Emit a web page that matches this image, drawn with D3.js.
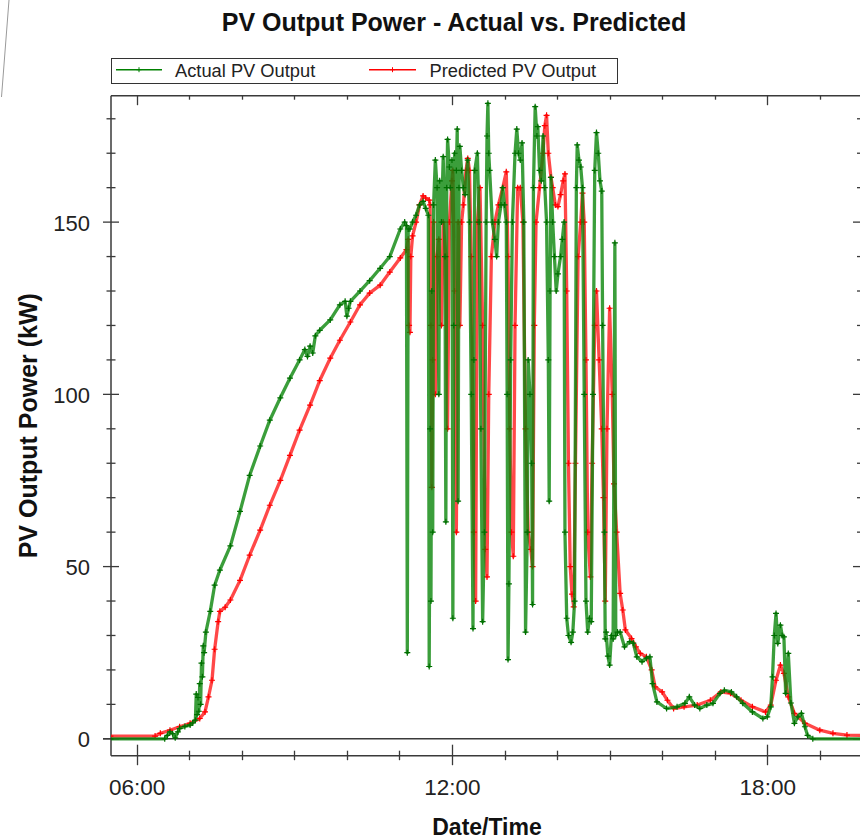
<!DOCTYPE html>
<html><head><meta charset="utf-8">
<script src="https://cdn.jsdelivr.net/npm/d3@7"></script>
<style>body{margin:0;background:#fff}svg{display:block}</style>
</head><body><svg id="c" width="860" height="839"></svg>
<script>
// ---------------- DATA ----------------
const seriesNames = ["Actual PV Output", "Predicted PV Output"];
const yTickMajor = [0, 50, 100, 150];
const xTickLabels = ["06:00", "12:00", "18:00"];

const actualTime = ["05:30","06:32","06:35","06:38","06:41","06:44","06:47","06:49","06:55","07:01","07:04","07:07","07:08","07:09","07:10","07:11","07:12","07:13","07:14","07:15","07:16","07:17","07:19","07:24","07:29","07:35","07:47","07:58","08:09","08:21","08:32","08:44","08:55","09:06","09:12","09:15","09:18","09:21","09:24","09:29","09:41","09:52","09:58","10:00","10:02","10:04","10:15","10:26","10:38","10:49","11:01","11:06","11:08","11:09","11:10","11:12","11:15","11:19","11:23","11:27","11:30","11:33","11:34","11:35","11:36","11:37","11:38","11:39","11:41","11:43","11:45","11:46","11:48","11:50","11:52","11:53","11:54","11:55","11:57","11:58","12:00","12:01","12:02","12:03","12:05","12:06","12:07","12:08","12:09","12:11","12:13","12:15","12:18","12:20","12:22","12:24","12:25","12:26","12:29","12:31","12:33","12:35","12:37","12:39","12:40","12:41","12:42","12:43","12:46","12:49","12:51","12:53","12:56","12:58","13:00","13:02","13:03","13:04","13:05","13:07","13:09","13:12","13:14","13:16","13:18","13:20","13:22","13:24","13:26","13:27","13:29","13:31","13:32","13:33","13:35","13:37","13:38","13:40","13:42","13:44","13:46","13:48","13:50","13:51","13:52","13:53","13:55","13:57","13:59","14:01","14:04","14:06","14:08","14:09","14:11","14:13","14:16","14:18","14:20","14:22","14:23","14:25","14:27","14:29","14:31","14:33","14:35","14:37","14:39","14:41","14:43","14:45","14:47","14:49","14:51","14:52","14:54","14:55","14:56","14:58","15:00","15:02","15:04","15:06","15:07","15:09","15:12","15:17","15:23","15:27","15:31","15:37","15:42","15:46","15:49","15:54","16:05","16:17","16:26","16:31","16:37","16:43","16:51","16:58","17:06","17:11","17:19","17:25","17:32","17:43","17:55","18:00","18:04","18:06","18:08","18:10","18:12","18:15","18:17","18:19","18:21","18:24","18:27","18:31","18:35","18:39","18:43","18:46","18:52","19:50"];
const actualKW = [0,0,1,2,1.5,0.3,2,3,3.6,4,4.6,5.4,13,7,12,8,16,10,22,18,27,25,31,37,44.6,49,56,66,76.5,85,92.5,99,104.7,110,113,111,114,112,117,118.6,121.6,126,127,122.7,125,127,130,133,136.6,140,148,150,149,25,148,148,150,152,155,156,154,152,21,90,40,130,60,155,168,160,100,162,150,169,140,63,160,174,166,160,168,35,120,170,165,177,69,160,172,165,160,158,168,150,100,32,110,165,170,150,90,34,60,150,175,184.5,170,165,150,145,140,150,155,160,155,150,100,23,45,110,150,170,177,170,168,173,150,31,60,110,100,80,39,160,183.5,175,177.7,165,162,175,160,150,110,69,130,163,150,140,130,135,140,145,150,60,35,30,28,31,40,160,172.4,168,166,160,100,40,31,35,34,100,165,176,170,162,159,120,60,29,31,24,21.4,30,29,144,30,31,31,26.7,28.2,27.8,23.8,22.4,23.4,23.8,16,10.7,8.8,9.3,10.3,12.2,9.8,8.8,9.8,10.3,13.2,14.1,13.6,12.2,10.3,7.8,5.9,6.4,9.3,18,30,36.4,27.7,33,30,29.6,13.2,24.8,10.4,4.5,6.4,7.4,3.5,1,0,0];

const predictedTime = ["05:30","06:21","06:27","06:38","06:49","07:01","07:12","07:18","07:22","07:26","07:29","07:33","07:35","07:41","07:47","07:58","08:09","08:21","08:32","08:44","08:55","09:06","09:18","09:29","09:41","09:52","10:04","10:15","10:26","10:38","10:49","11:01","11:08","11:10","11:11","11:12","11:13","11:15","11:19","11:23","11:27","11:30","11:34","11:35","11:36","11:37","11:38","11:39","11:41","11:43","11:45","11:48","11:50","11:53","11:55","11:57","12:00","12:01","12:03","12:05","12:07","12:09","12:11","12:13","12:16","12:18","12:20","12:22","12:25","12:27","12:29","12:32","12:35","12:38","12:40","12:42","12:45","12:49","12:53","12:58","13:02","13:04","13:06","13:08","13:10","13:12","13:15","13:18","13:21","13:24","13:27","13:30","13:32","13:34","13:36","13:40","13:44","13:46","13:48","13:50","13:53","13:55","13:58","14:01","14:04","14:07","14:09","14:11","14:13","14:15","14:17","14:19","14:21","14:24","14:27","14:29","14:31","14:33","14:35","14:38","14:40","14:43","14:45","14:48","14:51","14:53","14:55","14:57","15:00","15:03","15:05","15:08","15:12","15:15","15:18","15:25","15:30","15:35","15:42","15:48","15:52","16:00","16:06","16:13","16:25","16:40","16:55","17:07","17:18","17:30","17:43","17:58","18:04","18:10","18:15","18:19","18:24","18:31","18:43","19:00","19:15","19:31","19:50"];
const predictedKW = [0.8,0.8,1.6,2.5,3.5,4.5,5.9,7.8,12.2,17,26,34,37,38.2,40.3,46,53.3,60.6,67.8,75,82.3,89.6,96.9,104,110.5,115.7,121,126,129.4,131.7,135.5,139.6,142,145,120,118,140,146,150,155,157.6,157,156.4,155,120,73,110,150,100,140,145,120,150,140,90,150,162,165,130,60,150,120,150,155,165,168.5,165,140,60,40,150,160,120,55,47,100,140,150,155,160,164.6,140,90,60,53,120,160,160,150,90,60,55,50,120,150,160,170,178,181,170,163,160,155,154.5,158,162,164,130,80,50,42,38.3,80,140,150,158.4,150,110,60,47,80,120,130,110,90,70,40,90,125,100,74,60,42.2,37.4,31.6,29.1,26.7,24.8,23.8,20,15.1,13.6,11.2,8.8,9.3,9.8,11.2,13.6,13.2,11.2,9.3,7.8,9.8,17,21.4,19,12.2,7.4,4.5,2.5,1.6,1.1,1];

// ---------------- LAYOUT ----------------
const svg = d3.select("#c");
const L = 111, R = 862, T = 95.7, B = 755.7;
const parseT = d3.timeParse("%H:%M:%S");
const pt = s => parseT(s.length === 5 ? s + ":00" : s);
const x = d3.scaleTime().domain([pt("05:30:40"), pt("19:48:10")]).range([L, R]);
const y = d3.scaleLinear().domain([-4.9, 186.7]).range([B, T]);
const FONT = "'Liberation Sans', Arial, sans-serif";
const axisCol = "#3a3a3a";

svg.append("rect").attr("width", 860).attr("height", 839).attr("fill", "#fff");
// stray diagonal edge at top-left of the screenshot
svg.append("line").attr("x1", 9).attr("y1", 0).attr("x2", 1.5).attr("y2", 97)
  .attr("stroke", "#9a9a9a").attr("stroke-width", 1);

// title
svg.append("text").attr("x", 454).attr("y", 31).attr("text-anchor", "middle")
  .attr("font-family", FONT).attr("font-weight", "bold").attr("font-size", 25)
  .attr("fill", "#111").text("PV Output Power - Actual vs. Predicted");

// legend
const lg = svg.append("g");
lg.append("rect").attr("x", 111.5).attr("y", 58.5).attr("width", 506).attr("height", 25)
  .attr("fill", "#fff").attr("stroke", "#333").attr("stroke-width", 1);
const legendItems = [
  {name: seriesNames[0], col: "#008000", x0: 116, x1: 162, tx: 175},
  {name: seriesNames[1], col: "#ff0000", x0: 369, x1: 416, tx: 429.5}
];
legendItems.forEach(d => {
  lg.append("line").attr("x1", d.x0).attr("x2", d.x1).attr("y1", 69.7).attr("y2", 69.7)
    .attr("stroke", d.col).attr("stroke-width", 1.5);
  const mx = (d.x0 + d.x1) / 2;
  lg.append("path").attr("d", `M${mx - 2.5},69.7H${mx + 2.5}M${mx},67.2V72.2`)
    .attr("stroke", d.col).attr("stroke-width", 1);
  lg.append("text").attr("x", d.tx).attr("y", 76.5).attr("font-family", FONT)
    .attr("font-size", 18.3).attr("fill", "#222").text(d.name);
});

// clip
svg.append("defs").append("clipPath").attr("id", "clip")
  .append("rect").attr("x", L).attr("y", T).attr("width", R - L).attr("height", B - T);

// frame & axes lines
svg.append("line").attr("x1", L).attr("x2", R).attr("y1", T).attr("y2", T).attr("stroke", axisCol).attr("stroke-width", 1.5);
svg.append("line").attr("x1", L).attr("x2", L).attr("y1", T).attr("y2", B).attr("stroke", axisCol).attr("stroke-width", 1.5);
svg.append("line").attr("x1", L).attr("x2", R).attr("y1", B).attr("y2", B).attr("stroke", axisCol).attr("stroke-width", 1.5);

// ticks
const hours = d3.timeHour.range(x.domain()[0], x.domain()[1]);
const isMajorH = d => d.getHours() % 6 === 0;
const tg = svg.append("g").attr("stroke", axisCol).attr("stroke-width", 1.3);
hours.forEach(d => {
  const px = Math.round(x(d)) + 0.5;
  const maj = isMajorH(d);
  tg.append("line").attr("x1", px).attr("x2", px).attr("y1", maj ? B - 11 : B - 5).attr("y2", maj ? B + 9.5 : B + 4.5);
  tg.append("line").attr("x1", px).attr("x2", px).attr("y1", T).attr("y2", maj ? T + 9.5 : T + 4);
});
const yMinor = d3.range(0, 190, 10);
yMinor.forEach(v => {
  const py = y(v);
  const maj = v % 50 === 0;
  tg.append("line").attr("x1", maj ? L - 8 : L - 4.5).attr("x2", maj ? L + 8 : L + 4.5).attr("y1", py).attr("y2", py);
  tg.append("line").attr("x1", maj ? R - 9 : R - 5).attr("x2", R).attr("y1", py).attr("y2", py);
});

// zero baseline
svg.append("line").attr("x1", L - 8).attr("x2", R).attr("y1", y(0)).attr("y2", y(0))
  .attr("stroke", axisCol).attr("stroke-width", 1.5);

// axis labels via d3 axes
const xAxis = d3.axisBottom(x).tickValues(xTickLabels.map(pt)).tickSize(0).tickPadding(0)
  .tickFormat(d3.timeFormat("%H:%M"));
const gx = svg.append("g").attr("transform", `translate(0,${B})`).call(xAxis);
gx.select(".domain").remove();
gx.selectAll("text").attr("font-family", FONT).attr("font-size", 22.5).attr("fill", "#222")
  .attr("dy", null).attr("y", 39.5);

const yAxis = d3.axisLeft(y).tickValues(yTickMajor).tickSize(0).tickPadding(0);
const gy = svg.append("g").attr("transform", `translate(${L},0)`).call(yAxis);
gy.select(".domain").remove();
gy.selectAll("text").attr("font-family", FONT).attr("font-size", 22).attr("fill", "#222")
  .attr("x", -21).attr("dy", "0.36em");

svg.append("text").attr("x", 487).attr("y", 835).attr("text-anchor", "middle")
  .attr("font-family", FONT).attr("font-weight", "bold").attr("font-size", 23)
  .attr("fill", "#111").text("Date/Time");
svg.append("text").attr("transform", `translate(37,${(T + B) / 2}) rotate(-90)`)
  .attr("text-anchor", "middle").attr("font-family", FONT).attr("font-weight", "bold")
  .attr("font-size", 25).attr("fill", "#111").text("PV Output Power (kW)");

// series
const plot = svg.append("g").attr("clip-path", "url(#clip)");
const mk = (times, vals) => times.map((t, i) => ({t: pt(t), v: vals[i]}));
const series = [
  {data: mk(predictedTime, predictedKW), col: "#ff0000", lineCol: "#ff1a1a"},
  {data: mk(actualTime, actualKW), col: "#006e00", lineCol: "#0a860a"}
];
const line = d3.line().x(d => x(d.t)).y(d => y(d.v));
series.forEach(s => {
  plot.append("path").datum(s.data).attr("d", line).attr("fill", "none")
    .attr("stroke", s.lineCol).attr("stroke-width", 3.3).attr("stroke-opacity", 0.8)
    .attr("stroke-linejoin", "round");
  plot.append("g").selectAll("path").data(s.data).join("path")
    .attr("d", d => `M${x(d.t) - 3},${y(d.v)}H${x(d.t) + 3}M${x(d.t)},${y(d.v) - 3}V${y(d.v) + 3}`)
    .attr("stroke", s.col).attr("stroke-width", 1.2);
});
</script></body></html>
